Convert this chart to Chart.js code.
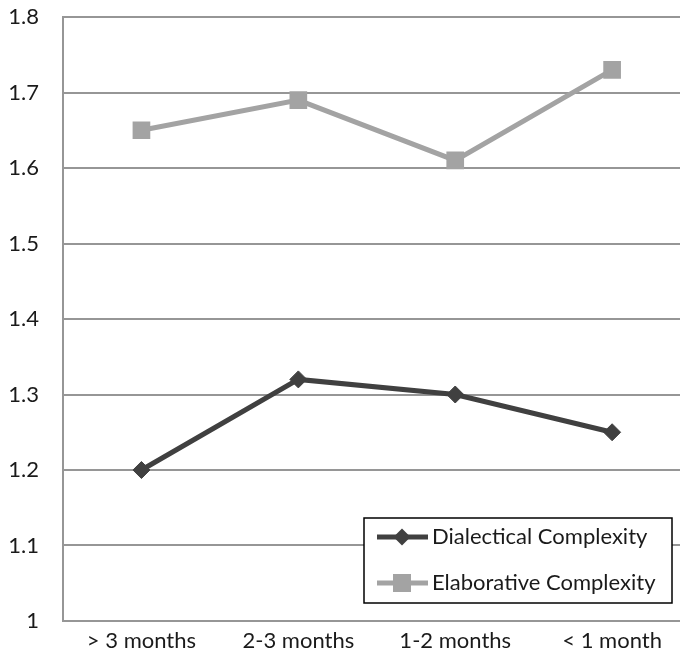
<!DOCTYPE html>
<html>
<head>
<meta charset="utf-8">
<script src="https://cdn.jsdelivr.net/npm/chart.js@4.4.1/dist/chart.umd.min.js"></script>
<style>
  html, body { margin: 0; padding: 0; background: #fff; overflow: hidden; }
  canvas { display: block; }
</style>
</head>
<body>
<canvas id="c" width="680" height="654"></canvas>
<script>
// Time before event
const categories = ['> 3 months', '2-3 months', '1-2 months', '< 1 month'];
// Mean complexity scores
const dialectical = [1.20, 1.32, 1.30, 1.25];
const elaborative = [1.65, 1.69, 1.61, 1.73];
const yTicks = [1, 1.1, 1.2, 1.3, 1.4, 1.5, 1.6, 1.7, 1.8];

const FONT = 'Lato, "Liberation Sans", sans-serif';
const TEXT = '#1a1a1a';
const DARK = '#404040';
const LIGHT = '#a3a3a3';
const GRID = '#969696';

// Category slots on a numeric axis; the last slot runs past the right edge
const toPoints = arr => arr.map((v, i) => ({ x: i, y: v }));

// Let the horizontal gridlines run all the way to the right edge
const fullWidthGrid = {
  id: 'fullWidthGrid',
  afterLayout(chart) {
    chart.chartArea.right = chart.width;
    chart.chartArea.width = chart.chartArea.right - chart.chartArea.left;
  }
};

// Boxed legend drawn inside the plot area, lower right
const boxLegend = {
  id: 'boxLegend',
  afterDraw(chart) {
    const ctx = chart.ctx;
    const x0 = 364, y0 = 518, w = 308, h = 85;
    ctx.save();
    ctx.fillStyle = '#fff';
    ctx.fillRect(x0, y0, w, h);
    ctx.strokeStyle = '#000';
    ctx.lineWidth = 1.5;
    ctx.strokeRect(x0, y0, w, h);
    const rows = [y0 + 19, y0 + 65];
    chart.data.datasets.forEach((ds, i) => {
      const y = rows[i];
      ctx.strokeStyle = ds.borderColor;
      ctx.lineWidth = ds.borderWidth;
      ctx.beginPath();
      ctx.moveTo(x0 + 13, y);
      ctx.lineTo(x0 + 64, y);
      ctx.stroke();
      ctx.fillStyle = ds.pointBackgroundColor;
      const cx = x0 + 38;
      ctx.beginPath();
      if (ds.pointStyle === 'rectRot') {
        const r = 8.5;
        ctx.moveTo(cx, y - r); ctx.lineTo(cx + r, y); ctx.lineTo(cx, y + r); ctx.lineTo(cx - r, y);
        ctx.closePath();
      } else {
        ctx.rect(cx - 9, y - 9, 18, 18);
      }
      ctx.fill();
      ctx.fillStyle = TEXT;
      ctx.font = '22px ' + FONT;
      ctx.textAlign = 'left';
      ctx.textBaseline = 'middle';
      ctx.fillText(ds.label, x0 + 68, y);
    });
    ctx.restore();
  }
};

new Chart(document.getElementById('c'), {
  type: 'line',
  data: {
    datasets: [
      {
        label: 'Dialectical Complexity',
        data: toPoints(dialectical),
        borderColor: DARK,
        backgroundColor: DARK,
        pointBackgroundColor: DARK,
        pointBorderColor: DARK,
        borderWidth: 5,
        pointStyle: 'rectRot',
        pointRadius: 8.5,
        pointBorderWidth: 1,
        tension: 0
      },
      {
        label: 'Elaborative Complexity',
        data: toPoints(elaborative),
        borderColor: LIGHT,
        backgroundColor: LIGHT,
        pointBackgroundColor: LIGHT,
        pointBorderColor: LIGHT,
        borderWidth: 5,
        pointStyle: 'rect',
        pointRadius: 12.5,
        pointBorderWidth: 0,
        tension: 0
      }
    ]
  },
  options: {
    responsive: false,
    animation: false,
    devicePixelRatio: 1,
    layout: { padding: { top: 17, left: 0, right: 0, bottom: 0 } },
    plugins: {
      legend: { display: false },
      tooltip: { enabled: false }
    },
    scales: {
      x: {
        type: 'linear',
        min: -0.5,
        max: 3.353,
        afterBuildTicks(scale) { scale.ticks = categories.map((_, i) => ({ value: i })); },
        grid: { display: false, drawTicks: false },
        border: { display: true, color: GRID, width: 2 },
        ticks: {
          color: TEXT,
          font: { family: FONT, size: 22 },
          padding: 7,
          maxRotation: 0,
          autoSkip: false,
          callback: v => categories[v]
        },
        afterFit(scale) {
          scale.height = 33;
          scale.paddingLeft = 0;
          scale.paddingRight = 0;
        }
      },
      y: {
        min: 1,
        max: 1.8,
        afterBuildTicks(scale) { scale.ticks = yTicks.map(v => ({ value: v })); },
        grid: { color: GRID, lineWidth: 2, drawTicks: false },
        border: { display: true, color: GRID, width: 2 },
        ticks: {
          color: TEXT,
          font: { family: FONT, size: 22 },
          padding: 24,
          callback: v => String(Math.round(v * 10) / 10)
        },
        afterFit(scale) {
          scale.width = 63;
          scale.paddingTop = 0;
          scale.paddingBottom = 0;
        }
      }
    }
  },
  plugins: [fullWidthGrid, boxLegend]
});
</script>
</body>
</html>
